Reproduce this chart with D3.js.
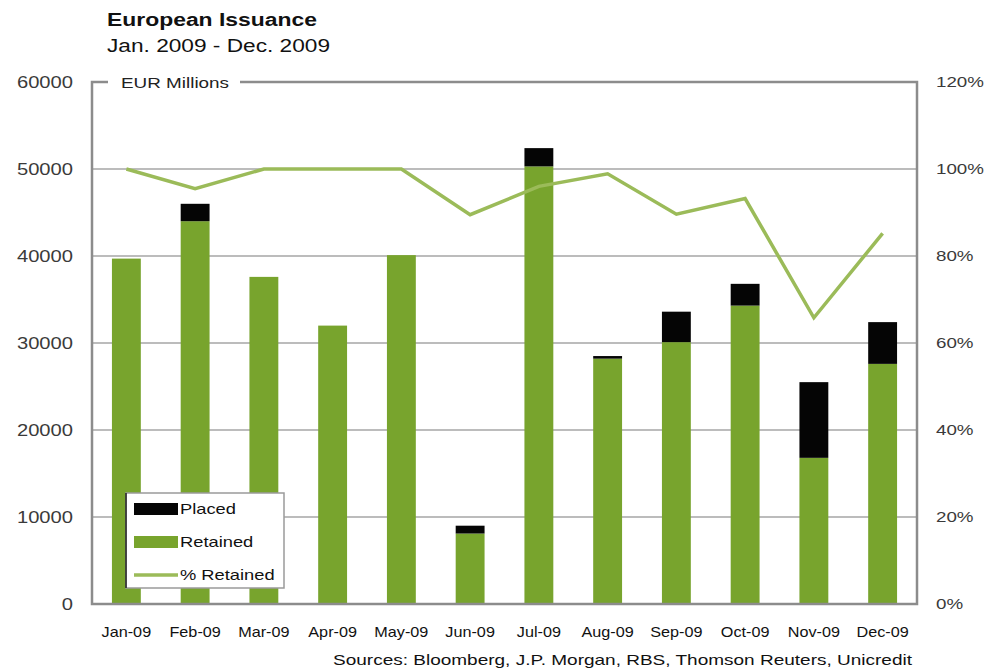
<!DOCTYPE html>
<html>
<head>
<meta charset="utf-8">
<script src="https://cdn.jsdelivr.net/npm/d3@7"></script>
<style>
  html, body { margin: 0; padding: 0; background: #fff; }
  svg { display: block; }
</style>
</head>
<body>
<script>
// Monthly European issuance, EUR millions
const months = ["Jan-09","Feb-09","Mar-09","Apr-09","May-09","Jun-09","Jul-09","Aug-09","Sep-09","Oct-09","Nov-09","Dec-09"];
const retained = [39700, 44000, 37600, 32000, 40100, 8100, 50300, 28200, 30100, 34300, 16800, 27600];
const placed   = [0, 2000, 0, 0, 0, 900, 2100, 300, 3500, 2500, 8700, 4800];
const pctRetained = [100, 95.5, 100, 100, 100, 89.5, 96, 98.9, 89.6, 93.2, 65.8, 85.2];
const leftTicks = [0, 10000, 20000, 30000, 40000, 50000, 60000];
const rightTicks = [0, 20, 40, 60, 80, 100, 120];

const W = 995, H = 671;
const m = { left: 92, right: 917, top: 82, bottom: 604 };
const font = "'Liberation Sans', Arial, sans-serif";
const green = "#78a42d", lineGreen = "#9bbb59";

const svg = d3.select("body").append("svg").attr("width", W).attr("height", H);

// Widen text horizontally by a factor, keeping its height
function widen(sel, k) {
  sel.each(function () {
    const w = this.getComputedTextLength();
    d3.select(this).attr("textLength", w * k).attr("lengthAdjust", "spacingAndGlyphs");
  });
}

const x = d3.scaleBand().domain(months).range([m.left, m.right]).paddingInner(0.58).paddingOuter(0.29);
const y = d3.scaleLinear().domain([0, 60000]).range([m.bottom, m.top]);
const y2 = d3.scaleLinear().domain([0, 120]).range([m.bottom, m.top]);

// Gridlines
svg.append("g").selectAll("line").data(leftTicks.slice(1, -1)).join("line")
  .attr("x1", m.left).attr("x2", m.right)
  .attr("y1", d => y(d)).attr("y2", d => y(d))
  .attr("stroke", "#a6a6a6").attr("stroke-width", 1.5);

// Stacked bars
const stack = months.map((mo, i) => ({ mo, r: retained[i], p: placed[i] }));
svg.append("g").selectAll("rect").data(stack).join("rect")
  .attr("x", d => x(d.mo)).attr("width", x.bandwidth())
  .attr("y", d => y(d.r)).attr("height", d => y(0) - y(d.r))
  .attr("fill", green);
svg.append("g").selectAll("rect").data(stack.filter(d => d.p > 0)).join("rect")
  .attr("x", d => x(d.mo)).attr("width", x.bandwidth())
  .attr("y", d => y(d.r + d.p)).attr("height", d => y(d.r) - y(d.r + d.p))
  .attr("fill", "#050505");

// % retained line
const line = d3.line().x((d, i) => x(months[i]) + x.bandwidth() / 2).y(d => y2(d));
svg.append("path").datum(pctRetained).attr("d", line)
  .attr("fill", "none").attr("stroke", lineGreen).attr("stroke-width", 3.5)
  .attr("stroke-linejoin", "miter");

// Frame
svg.append("rect").attr("x", m.left).attr("y", m.top)
  .attr("width", m.right - m.left).attr("height", m.bottom - m.top)
  .attr("fill", "none").attr("stroke", "#8c8c8c").attr("stroke-width", 2.5);

// Units label on the top border
svg.append("rect").attr("x", 108).attr("y", 73).attr("width", 132).attr("height", 18).attr("fill", "#fff");
svg.append("text").attr("x", 121).attr("y", 88).text("EUR Millions")
  .attr("font-family", font).attr("font-size", 14).attr("fill", "#222")
  .attr("textLength", 108).attr("lengthAdjust", "spacingAndGlyphs");

// Left axis
const gl = svg.append("g").attr("transform", `translate(${m.left},0)`)
  .call(d3.axisLeft(y).tickValues(leftTicks).tickSize(0).tickPadding(19).tickFormat(d3.format("d")));
gl.select(".domain").remove();
gl.selectAll("text").attr("font-family", font).attr("font-size", 16).attr("fill", "#3a3a3a");
widen(gl.selectAll("text"), 1.26);

// Right axis
const gr = svg.append("g").attr("transform", `translate(${m.right},0)`)
  .call(d3.axisRight(y2).tickValues(rightTicks).tickSize(0).tickPadding(19).tickFormat(d => d + "%"));
gr.select(".domain").remove();
gr.selectAll("text").attr("font-family", font).attr("font-size", 15).attr("fill", "#3a3a3a");
widen(gr.selectAll("text"), 1.25);

// Bottom axis
const gb = svg.append("g").attr("transform", `translate(0,${m.bottom})`)
  .call(d3.axisBottom(x).tickSize(0).tickPadding(22));
gb.select(".domain").remove();
gb.selectAll("text").attr("font-family", font).attr("font-size", 15).attr("fill", "#111");
widen(gb.selectAll("text"), 1.08);

// Title
svg.append("text").attr("x", 107).attr("y", 26).text("European Issuance")
  .attr("font-family", font).attr("font-size", 18).attr("font-weight", "bold").attr("fill", "#111")
  .attr("textLength", 210).attr("lengthAdjust", "spacingAndGlyphs");
svg.append("text").attr("x", 107).attr("y", 52).text("Jan. 2009 - Dec. 2009")
  .attr("font-family", font).attr("font-size", 17.5).attr("fill", "#111")
  .attr("textLength", 223).attr("lengthAdjust", "spacingAndGlyphs");

// Sources
svg.append("text").attr("x", 912).attr("y", 665).attr("text-anchor", "end")
  .text("Sources: Bloomberg, J.P. Morgan, RBS, Thomson Reuters, Unicredit")
  .attr("font-family", font).attr("font-size", 15).attr("fill", "#111")
  .attr("textLength", 579).attr("lengthAdjust", "spacingAndGlyphs");

// Legend
const lg = svg.append("g");
lg.append("rect").attr("x", 126).attr("y", 493).attr("width", 158).attr("height", 95)
  .attr("fill", "#fff").attr("stroke", "#9a9a9a").attr("stroke-width", 1.5);
lg.append("line").attr("x1", 126).attr("x2", 126).attr("y1", 493).attr("y2", 588)
  .attr("stroke", "#222").attr("stroke-width", 1.5);
const items = [
  { label: "Placed", type: "rect", color: "#050505", yy: 509 },
  { label: "Retained", type: "rect", color: green, yy: 542 },
  { label: "% Retained", type: "line", color: lineGreen, yy: 575 }
];
items.forEach(it => {
  if (it.type === "rect") {
    lg.append("rect").attr("x", 134).attr("y", it.yy - 6).attr("width", 44).attr("height", 12).attr("fill", it.color);
  } else {
    lg.append("line").attr("x1", 134).attr("x2", 178).attr("y1", it.yy).attr("y2", it.yy)
      .attr("stroke", it.color).attr("stroke-width", 3.5);
  }
  const t = lg.append("text").attr("x", 180).attr("y", it.yy + 5).text(it.label)
    .attr("font-family", font).attr("font-size", 15).attr("fill", "#111");
  widen(t, 1.22);
});
</script>
</body>
</html>
